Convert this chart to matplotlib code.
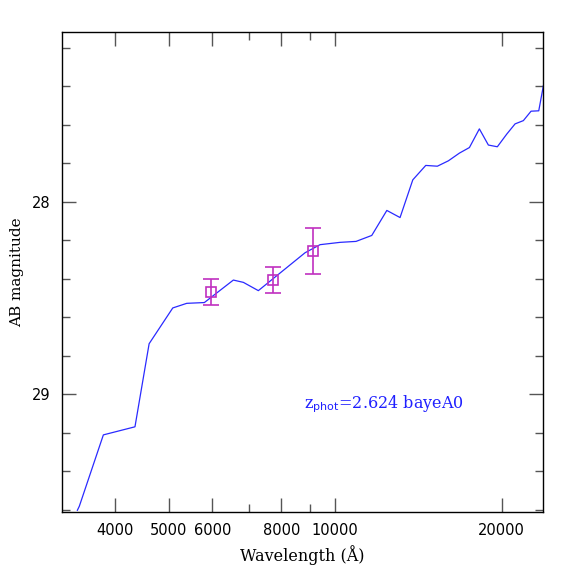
import numpy as np
import matplotlib
matplotlib.use("Agg")
import matplotlib.pyplot as plt
from matplotlib.ticker import FixedLocator, NullFormatter, FixedFormatter

# SED model (wavelength in Angstrom, AB magnitude)
wave = [3420, 3448, 3811, 4347, 4611, 5088, 5393, 5803, 6548, 6827, 7266,
        8826, 9395, 10210, 10914, 11652, 12406, 13108, 13822, 14588, 15310,
        16030, 16782, 17497, 18237, 18934, 19654, 20441, 21160, 21904, 22616,
        23353, 23805]
mag = [29.604, 29.583, 29.212, 29.170, 28.738, 28.552, 28.528, 28.524, 28.407,
       28.419, 28.462, 28.265, 28.223, 28.211, 28.206, 28.175, 28.045, 28.082,
       27.886, 27.811, 27.815, 27.787, 27.747, 27.718, 27.621, 27.705, 27.714,
       27.648, 27.595, 27.578, 27.529, 27.527, 27.397]

# observed photometry
obs_wave = [5968, 7735, 9114]
obs_mag = [28.468, 28.407, 28.255]
obs_err = [0.068, 0.067, 0.12]

major_x = [4000, 5000, 6000, 8000, 10000, 20000]
minor_x = [7000, 9000]
x_labels = ["4000", "5000", "6000", "8000", "10000", "20000"]

fig = plt.figure(figsize=(5.74, 5.74), dpi=100)
ax = fig.add_axes([0.108, 0.108, 0.838, 0.837])

ax.plot(wave, mag, color="#2a2aff", lw=0.9)
ax.errorbar(obs_wave, obs_mag, yerr=obs_err, fmt="none", ecolor="#c030c0",
            elinewidth=1.2, capsize=6, capthick=1.2)
ax.plot(obs_wave, obs_mag, ls="none", marker="s", ms=7, mfc="none",
        mec="#c030c0", mew=1.2)

ax.set_xscale("log")
ax.set_xlim(3208, 23770)
ax.set_ylim(29.613, 27.115)

ax.xaxis.set_major_locator(FixedLocator(major_x))
ax.xaxis.set_major_formatter(FixedFormatter(x_labels))
ax.xaxis.set_minor_locator(FixedLocator(minor_x))
ax.xaxis.set_minor_formatter(NullFormatter())
ax.yaxis.set_major_locator(FixedLocator([28, 29]))
ax.yaxis.set_minor_locator(FixedLocator(np.arange(27.2, 29.61, 0.2)))

ax.tick_params(which="both", direction="in", top=True, right=True,
               labelsize=10.5, width=1, color="#555555")
ax.tick_params(which="major", length=10, pad=8)
ax.tick_params(which="minor", length=5.5)
for s in ax.spines.values():
    s.set_linewidth(1)

ax.set_xlabel("Wavelength (Å)", family="DejaVu Serif", fontsize=11.5, labelpad=5)
ax.set_ylabel("AB magnitude", family="DejaVu Serif", fontsize=11, labelpad=6)

ax.text(0.503, 0.224, r"z$_{\rm phot}$=2.624 bayeA0", transform=ax.transAxes,
        color="#2020ff", family="DejaVu Serif", fontsize=11.5, va="center")

fig.savefig("out.png", dpi=100)
